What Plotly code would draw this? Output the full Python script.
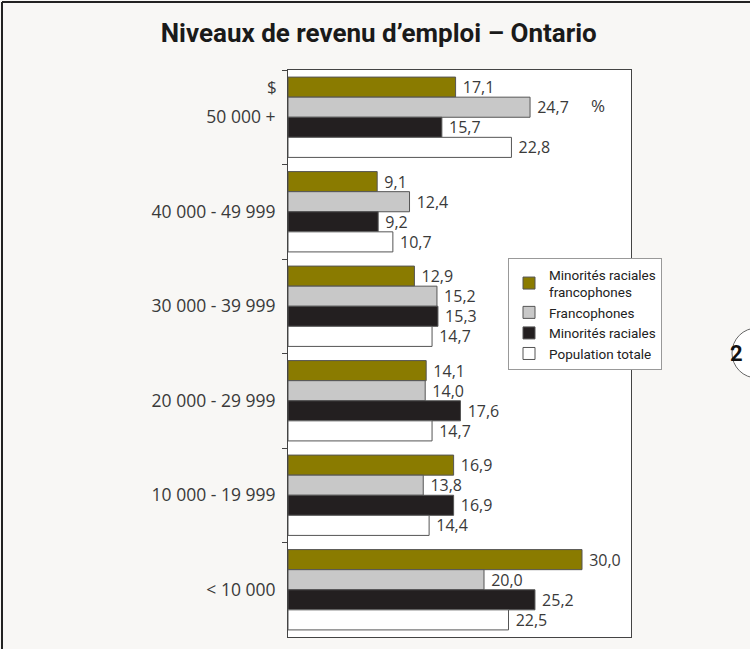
import plotly.graph_objects as go

categories = ["50 000 +", "40 000 - 49 999", "30 000 - 39 999",
              "20 000 - 29 999", "10 000 - 19 999", "< 10 000"]
series_names = ["Minorités raciales<br>francophones", "Francophones",
                "Minorités raciales", "Population totale"]
min_rac_franco = [17.1, 9.1, 12.9, 14.1, 16.9, 30.0]
francophones = [24.7, 12.4, 15.2, 14.0, 13.8, 20.0]
min_raciales = [15.7, 9.2, 15.3, 17.6, 16.9, 25.2]
pop_totale = [22.8, 10.7, 14.7, 14.7, 14.4, 22.5]
colors = ["#8a7b00", "#c8c8c8", "#231f20", "#ffffff"]

FONT = "Roboto, sans-serif"
LFONT = "Open Sans, Roboto, sans-serif"

fig = go.Figure()
for name, vals, col in zip(series_names,
                           [min_rac_franco, francophones, min_raciales, pop_totale],
                           colors):
    fig.add_trace(go.Bar(
        y=categories, x=vals, orientation="h", name=name,
        marker=dict(color=col, line=dict(color="#555555", width=1)),
        text=[" " + f"{v:.1f}".replace(".", ",") for v in vals],
        textposition="outside", cliponaxis=False, constraintext="none",
        textfont=dict(family=LFONT, size=16, color="#3a3a3a"),
    ))

fig.update_layout(
    width=750, height=649,
    margin=dict(l=288, r=119, t=70, b=12),
    paper_bgcolor="#f8f7f5", plot_bgcolor="#ffffff",
    barmode="group", bargap=0.15, bargroupgap=0,
    font=dict(family=FONT, size=16, color="#333333"),
    title=dict(text="<b>Niveaux de revenu d\u2019emploi \u2013 Ontario</b>",
               x=0.505, xanchor="center", y=0.950, yanchor="middle",
               font=dict(family=FONT, size=26, color="#1a1a1a")),
    showlegend=True,
    legend=dict(x=(508 - 288) / 343, y=(637 - 258) / 567, xanchor="left", yanchor="top",
                bgcolor="#ffffff", bordercolor="#999999", borderwidth=1,
                font=dict(family=FONT, size=13.5, color="#222222"),
                traceorder="normal", tracegroupgap=0, itemwidth=30),
    xaxis=dict(range=[0, 35], showticklabels=False, showgrid=False, zeroline=False,
               showline=True, linecolor="#444444", linewidth=1, mirror=True, ticks=""),
    yaxis=dict(autorange="reversed", showgrid=False, showline=True,
               linecolor="#444444", linewidth=1, mirror=True,
               ticks="outside", ticklen=5, tickcolor="#444444", tickson="boundaries",
               ticklabelstandoff=8,
               tickfont=dict(family=LFONT, size=17.5, color="#3a3a3a")),
)

fig.add_annotation(text="$", xref="paper", yref="paper", x=(265 - 288) / 343,
                   y=(637 - 73) / 567, showarrow=False,
                   font=dict(family=LFONT, size=17, color="#3a3a3a"))
fig.add_annotation(text="%", xref="paper", yref="paper", x=(607 - 288) / 343,
                   y=(637 - 92) / 567, showarrow=False,
                   font=dict(family=LFONT, size=17, color="#3a3a3a"))

# outer frame (left and top lines)
fig.add_shape(type="line", xref="paper", yref="paper", x0=(2 - 288) / 343, x1=(760 - 288) / 343,
              y0=(637 - 2) / 567, y1=(637 - 2) / 567, line=dict(color="#222222", width=2))
fig.add_shape(type="line", xref="paper", yref="paper", x0=(2 - 288) / 343, x1=(2 - 288) / 343,
              y0=(637 - 2) / 567, y1=(637 - 660) / 567, line=dict(color="#222222", width=2))
# page number circle
fig.add_shape(type="circle", xref="paper", yref="paper",
              x0=(732 - 288) / 343, x1=(782 - 288) / 343,
              y0=(637 - 378) / 567, y1=(637 - 328) / 567,
              line=dict(color="#666666", width=1), fillcolor="#ffffff")
fig.add_annotation(text="<b>2</b>", xref="paper", yref="paper",
                   x=(745 - 288) / 343, y=(637 - 353) / 567, showarrow=False,
                   font=dict(family="Roboto, sans-serif", size=22, color="#111111"))

fig.write_html("out.html", config={"displayModeBar": False},
               post_script="document.body.style.margin='0';document.body.style.overflow='hidden';")
